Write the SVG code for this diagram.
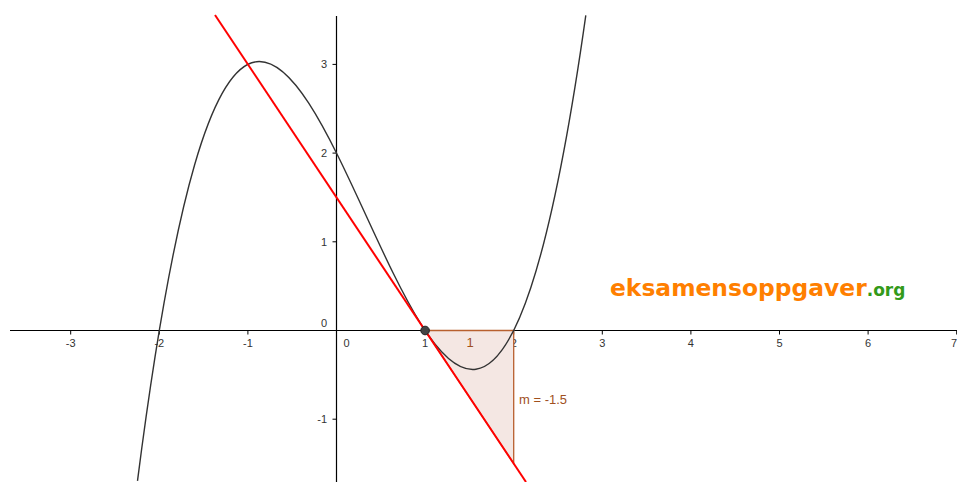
<svg xmlns="http://www.w3.org/2000/svg" width="957" height="482" viewBox="0 0 957 482">
<style>
.ax{stroke:#000;stroke-width:1.2;fill:none}
.tk{stroke:#000;stroke-width:1;fill:none}
.lbl{font-family:"Liberation Sans",Arial,sans-serif;font-size:11px;fill:#333}
.br{font-family:"Liberation Sans",Arial,sans-serif;font-size:13px;fill:#a0501e}
</style>
<rect width="957" height="482" fill="#fff"/>
<g id="axes">
<line class="ax" x1="10" y1="330.5" x2="957" y2="330.5"/>
<line class="ax" x1="336.5" y1="16" x2="336.5" y2="482"/>
<path class="tk" d="M70.7 330.5v4M159.3 330.5v4M247.9 330.5v4M425.1 330.5v4M513.7 330.5v4M602.3 330.5v4M690.9 330.5v4M779.5 330.5v4M868.1 330.5v4M956.7 330.5v4M336.5 64.4h-4M336.5 153.1h-4M336.5 241.8h-4M336.5 419.2h-4"/>
<g class="lbl" text-anchor="middle">
<text x="70.7" y="347">-3</text>
<text x="159.3" y="347">-2</text>
<text x="247.9" y="347">-1</text>
<text x="346.5" y="347">0</text>
<text x="425.1" y="347">1</text>
<text x="513.7" y="347">2</text>
<text x="602.3" y="347">3</text>
<text x="690.9" y="347">4</text>
<text x="779.5" y="347">5</text>
<text x="868.1" y="347">6</text>
<text x="954" y="347">7</text>
</g>
<g class="lbl" text-anchor="end">
<text x="327" y="68.4">3</text>
<text x="327" y="157.1">2</text>
<text x="327" y="245.8">1</text>
<text x="327" y="327">0</text>
<text x="327" y="423.2">-1</text>
</g>
</g>
<g id="slope-triangle">
<polygon points="425.1,330.5 513.7,330.5 513.7,463.6" fill="#f4e7e3" stroke="#b8602e" stroke-width="1.3"/>
<text class="br" x="470" y="347" text-anchor="middle">1</text>
<text class="br" x="519" y="404">m = -1.5</text>
</g>
<g id="curve">
<path d="M137.5 480.8C286.95 -688 436.38 1072.1 585.8 15.3" fill="none" stroke="#333" stroke-width="1.4"/>
</g>
<g id="tangent">
<line x1="215" y1="15" x2="526" y2="482" stroke="#ff0000" stroke-width="2"/>
</g>
<g id="point">
<circle cx="425.1" cy="330.5" r="4.3" fill="#444" stroke="#222" stroke-width="1"/>
</g>
<g id="watermark">
<text x="610" y="296" font-family="DejaVu Sans,Verdana,sans-serif" font-weight="bold" font-size="23.4" fill="#ff7f00">eksamensoppgaver<tspan font-size="17" fill="#339a1a">.org</tspan></text>
</g>
</svg>
